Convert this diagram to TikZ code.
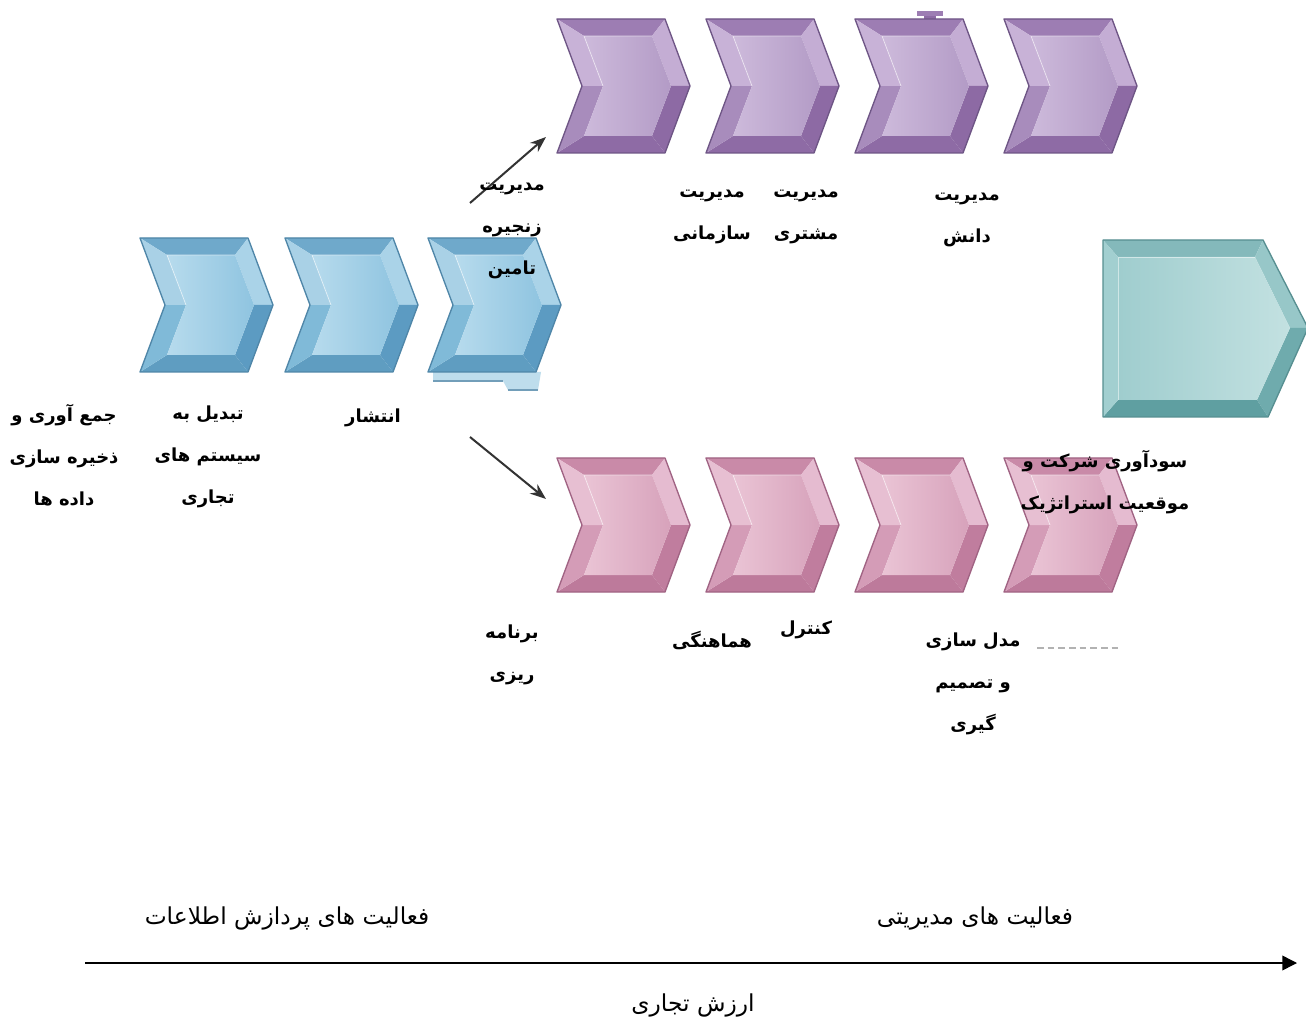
\documentclass[tikz,border=0pt]{standalone}
\usepackage{fontspec}
\usetikzlibrary{arrows.meta}
\TeXXeTstate=1
\newfontfamily\fafont[Script=Arabic]{DejaVu Sans}
\newcommand\fatext[1]{\beginR #1\endR}

% palettes: O outline, T top bevel, L left-upper, M left-lower, B bottom,
% U right-upper, D right-lower, F1/F2 face gradient
\definecolor{bluO}{HTML}{4F86A8}
\definecolor{bluT}{HTML}{6FA9CB}
\definecolor{bluL}{HTML}{A9D1E6}
\definecolor{bluM}{HTML}{80BAD8}
\definecolor{bluB}{HTML}{5F9DC1}
\definecolor{bluU}{HTML}{AAD3E8}
\definecolor{bluD}{HTML}{5C9BC2}
\definecolor{bluF1}{HTML}{B7DBED}
\definecolor{bluF2}{HTML}{8FC4E0}

\definecolor{purO}{HTML}{6E5585}
\definecolor{purT}{HTML}{9D7DB3}
\definecolor{purL}{HTML}{C8B2D7}
\definecolor{purM}{HTML}{A88CBC}
\definecolor{purB}{HTML}{8E6BA5}
\definecolor{purU}{HTML}{C4ADD4}
\definecolor{purD}{HTML}{8D6AA4}
\definecolor{purF1}{HTML}{CDBADB}
\definecolor{purF2}{HTML}{B39BC6}

\definecolor{pnkO}{HTML}{A06383}
\definecolor{pnkT}{HTML}{C98AA8}
\definecolor{pnkL}{HTML}{E7BFD2}
\definecolor{pnkM}{HTML}{D49CB7}
\definecolor{pnkB}{HTML}{BD7A9B}
\definecolor{pnkU}{HTML}{E5BBD0}
\definecolor{pnkD}{HTML}{C07D9E}
\definecolor{pnkF1}{HTML}{EAC4D5}
\definecolor{pnkF2}{HTML}{D7A2BB}

\definecolor{tlO}{HTML}{578F91}
\definecolor{tlT}{HTML}{84B9BB}
\definecolor{tlL}{HTML}{A2CFD0}
\definecolor{tlB}{HTML}{5F9FA1}
\definecolor{tlU}{HTML}{97C7C8}
\definecolor{tlD}{HTML}{6FABAD}
\definecolor{tlF1}{HTML}{9FCDCE}
\definecolor{tlF2}{HTML}{C3E1E1}

% bevelled chevron: #1 name, #2 x, #3 y (top-left corner), #4 palette
\newcommand\bevelchevron[4]{%
  \coordinate (#1) at (#2,#3);
  \begin{scope}[shift={(#2,#3)}]
    \fill[#4T] (0,0) -- (108,0) -- (95,17) -- (27,17) -- cycle;
    \fill[#4U] (108,0) -- (133,67) -- (114,67) -- (95,17) -- cycle;
    \fill[#4D] (133,67) -- (108,134) -- (95,117) -- (114,67) -- cycle;
    \fill[#4B] (108,134) -- (0,134) -- (27,117) -- (95,117) -- cycle;
    \fill[#4M] (0,134) -- (25,67) -- (46,67) -- (27,117) -- cycle;
    \fill[#4L] (25,67) -- (0,0) -- (27,17) -- (46,67) -- cycle;
    \shade[left color=#4F1, right color=#4F2]
      (27,17) -- (95,17) -- (114,67) -- (95,117) -- (27,117) -- (46,67) -- cycle;
    \draw[white, opacity=0.55, line width=0.6pt] (46,67) -- (27,17) -- (95,17);
    \draw[#4O, line width=1pt, line join=round]
      (0,0) -- (108,0) -- (133,67) -- (108,134) -- (0,134) -- (25,67) -- cycle;
  \end{scope}}

\tikzset{
  lbl/.style={font=\fafont\bfseries\fontsize{13.5}{31.5}\selectfont, align=center, inner sep=0pt},
  axislbl/.style={font=\fafont\fontsize{17.5}{20}\selectfont, inner sep=0pt},
  flow/.style={draw=black!80, line width=1.5pt, -{Stealth[length=12pt,width=9pt]}},
}

\begin{document}
\begin{tikzpicture}[x=0.75pt,y=-0.75pt]
  \useasboundingbox (0,0) rectangle (1306,1019);
  \clip (0,0) rectangle (1306,1019);
  \fill[white] (0,0) rectangle (1306,1019);

  % ragged lower edge under the third blue chevron
  \fill[bluL!75] (433,372) -- (433,381) -- (503,381) -- (508,390) -- (538,390) -- (541,372) -- cycle;
  \draw[bluO!80, line width=0.8pt] (433,381) -- (503,381) (508,390) -- (538,390);

  % information processing chevrons
  \bevelchevron{b1}{140}{238}{blu}
  \bevelchevron{b2}{285}{238}{blu}
  \bevelchevron{b3}{428}{238}{blu}

  % management chevrons, upper row
  \fill[purT] (917,11) rectangle (943,16);
  \fill[purB] (924,16) rectangle (936,20);
  \bevelchevron{u1}{557}{19}{pur}
  \bevelchevron{u2}{706}{19}{pur}
  \bevelchevron{u3}{855}{19}{pur}
  \bevelchevron{u4}{1004}{19}{pur}

  % management chevrons, lower row
  \bevelchevron{d1}{557}{458}{pnk}
  \bevelchevron{d2}{706}{458}{pnk}
  \bevelchevron{d3}{855}{458}{pnk}
  \bevelchevron{d4}{1004}{458}{pnk}

  % result pentagon
  \coordinate (res) at (1103,240);
  \fill[tlT] (1103,240) -- (1263,240) -- (1255,257) -- (1118,257) -- cycle;
  \fill[tlU] (1263,240) -- (1308,328) -- (1290,328) -- (1255,257) -- cycle;
  \fill[tlD] (1308,328) -- (1268,417) -- (1257,400) -- (1290,328) -- cycle;
  \fill[tlB] (1268,417) -- (1103,417) -- (1118,400) -- (1257,400) -- cycle;
  \fill[tlL] (1103,417) -- (1103,240) -- (1118,257) -- (1118,400) -- cycle;
  \shade[left color=tlF1, right color=tlF2]
    (1118,257) -- (1255,257) -- (1290,328) -- (1257,400) -- (1118,400) -- cycle;
  \draw[white, opacity=0.5, line width=0.6pt] (1118,400) -- (1118,257) -- (1255,257);
  \draw[tlO, line width=1pt, line join=round]
    (1103,240) -- (1263,240) -- (1308,328) -- (1268,417) -- (1103,417) -- cycle;

  % faint dotted mark
  \draw[gray!60, line width=1.5pt, dash pattern=on 5pt off 3pt] (1037,648) -- (1122,648);

  % branching arrows
  \coordinate (upS) at (470,203);
  \coordinate (upE) at (546,137);
  \coordinate (dnS) at (470,437);
  \coordinate (dnE) at (546,499);
  \draw[flow] (upS) -- (upE);
  \draw[flow] (dnS) -- (dnE);

  % labels of the information processing steps
  \node[lbl] (t1) at (64,455) {\fatext{جمع آوری و}\\\fatext{ذخیره سازی}\\\fatext{داده ها}};
  \node[lbl] (t2) at (208,457) {\fatext{تبدیل به}\\\fatext{سیستم های}\\\fatext{تجاری}};
  \node[lbl] (t3) at (373,418) {\fatext{انتشار}};

  % labels of the upper management steps
  \node[lbl] (t4) at (512,231) {\fatext{مدیریت}\\\fatext{زنجیره}\\\fatext{تامین}};
  \node[lbl] (t5) at (712,217) {\fatext{مدیریت}\\\fatext{سازمانی}};
  \node[lbl] (t6) at (806,217) {\fatext{مدیریت}\\\fatext{مشتری}};
  \node[lbl] (t7) at (967,220) {\fatext{مدیریت}\\\fatext{دانش}};

  % labels of the lower management steps
  \node[lbl] (t8) at (1105,482) {\fatext{سودآوری شرکت و}\\\fatext{موقعیت استراتژیک}};
  \node[lbl] (t9) at (512,655) {\fatext{برنامه}\\\fatext{ریزی}};
  \node[lbl] (t10) at (712,640) {\fatext{هماهنگی}};
  \node[lbl] (t11) at (806,630) {\fatext{کنترل}};
  \node[lbl] (t12) at (973,684) {\fatext{مدل سازی}\\\fatext{و تصمیم}\\\fatext{گیری}};

  % value axis
  \coordinate (axS) at (85,963);
  \coordinate (axE) at (1297,963);
  \draw[black, line width=1.1pt, -{Triangle[length=11pt,width=11pt]}] (axS) -- (axE);
  \node[axislbl] (a1) at (287,918) {\fatext{فعالیت های پردازش اطلاعات}};
  \node[axislbl] (a2) at (975,918) {\fatext{فعالیت های مدیریتی}};
  \node[axislbl] (a3) at (693,1005) {\fatext{ارزش تجاری}};
\end{tikzpicture}
\end{document}
